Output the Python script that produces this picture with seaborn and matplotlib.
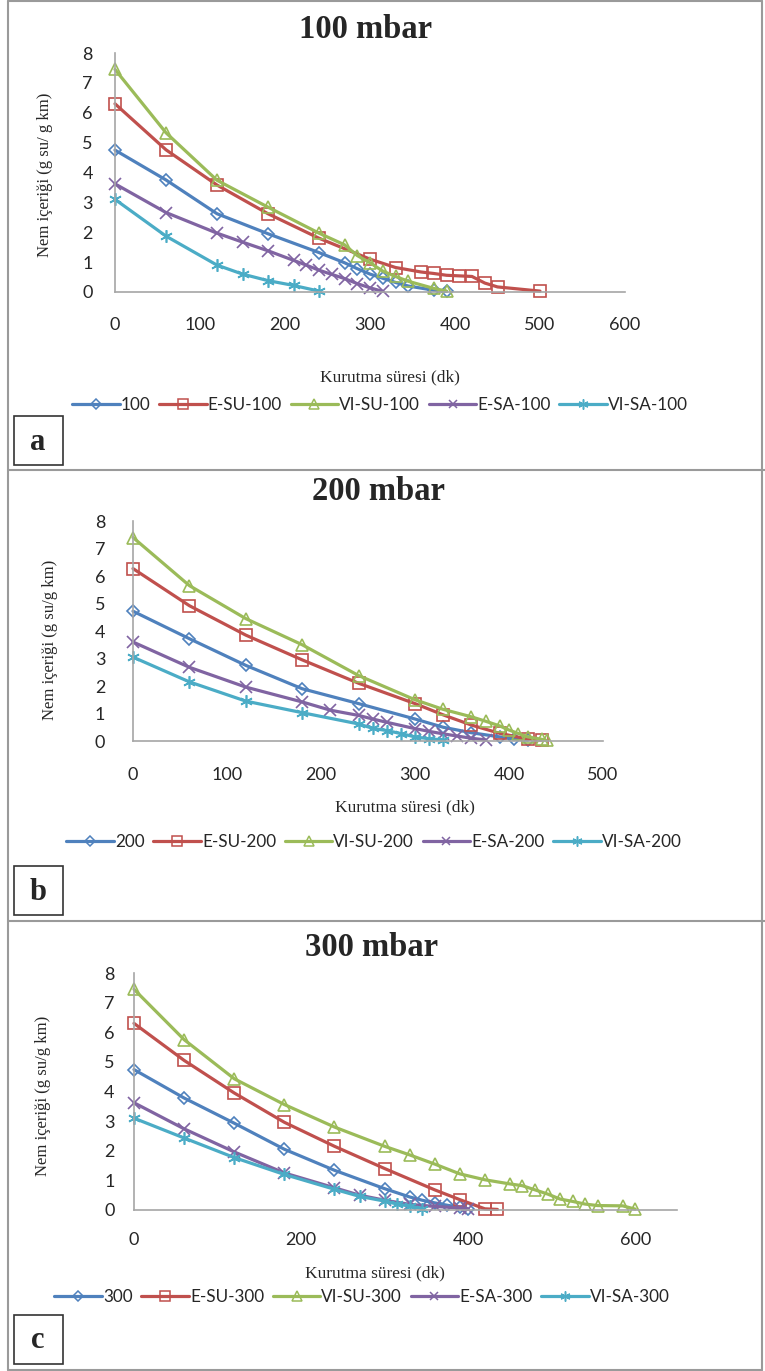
import numpy as np
import pandas as pd
import matplotlib
matplotlib.use("Agg")
import matplotlib.pyplot as plt
import seaborn as sns
from matplotlib.lines import Line2D
from matplotlib.patches import Rectangle

# ---- data ----
# panel a: 100 mbar
a_names = ['100', 'E-SU-100', 'VI-SU-100', 'E-SA-100', 'VI-SA-100']
a_t_base = [0, 60, 120, 180, 240, 270, 285, 300, 315, 330, 345, 375, 390]
a_y_base = [4.75, 3.75, 2.62, 1.95, 1.32, 0.98, 0.78, 0.60, 0.46, 0.32, 0.20, 0.06, 0.02]
a_t_esu = [0, 60, 120, 180, 240, 300, 330, 360, 375, 390, 405, 420, 435, 450, 500]
a_y_esu = [6.30, 4.76, 3.58, 2.62, 1.80, 1.10, 0.82, 0.67, 0.62, 0.56, 0.54, 0.52, 0.30, 0.17, 0.03]
a_t_visu = [0, 60, 120, 180, 240, 270, 285, 300, 315, 330, 345, 375, 390]
a_y_visu = [7.45, 5.33, 3.74, 2.84, 1.97, 1.58, 1.22, 0.98, 0.70, 0.52, 0.36, 0.12, 0.03]
a_t_esa = [0, 60, 120, 150, 180, 210, 225, 240, 255, 270, 285, 300, 315]
a_y_esa = [3.62, 2.66, 1.97, 1.67, 1.38, 1.06, 0.90, 0.73, 0.59, 0.45, 0.28, 0.14, 0.02]
a_t_visa = [0, 60, 120, 150, 180, 210, 240]
a_y_visa = [3.10, 1.87, 0.90, 0.60, 0.38, 0.22, 0.03]

# panel b: 200 mbar
b_names = ['200', 'E-SU-200', 'VI-SU-200', 'E-SA-200', 'VI-SA-200']
b_t_base = [0, 60, 120, 180, 240, 300, 330, 360, 390, 405, 420]
b_y_base = [4.72, 3.72, 2.75, 1.90, 1.36, 0.80, 0.50, 0.30, 0.15, 0.08, 0.03]
b_t_esu = [0, 60, 120, 180, 240, 300, 330, 360, 390, 420, 435]
b_y_esu = [6.27, 4.92, 3.85, 2.95, 2.10, 1.36, 0.95, 0.58, 0.28, 0.07, 0.03]
b_t_visu = [0, 60, 120, 180, 240, 300, 330, 360, 375, 390, 400, 410, 420, 435, 440]
b_y_visu = [7.40, 5.65, 4.45, 3.50, 2.38, 1.50, 1.15, 0.88, 0.72, 0.55, 0.40, 0.27, 0.15, 0.06, 0.02]
b_t_esa = [0, 60, 120, 180, 210, 240, 255, 270, 300, 315, 330, 345, 360, 375]
b_y_esa = [3.60, 2.68, 1.96, 1.42, 1.12, 0.93, 0.80, 0.68, 0.45, 0.35, 0.26, 0.18, 0.10, 0.04]
b_t_visa = [0, 60, 120, 180, 240, 255, 270, 285, 300, 315, 330]
b_y_visa = [3.05, 2.15, 1.45, 1.03, 0.62, 0.46, 0.38, 0.27, 0.15, 0.08, 0.04]

# panel c: 300 mbar
c_names = ['300', 'E-SU-300', 'VI-SU-300', 'E-SA-300', 'VI-SA-300']
c_t_base = [0, 60, 120, 180, 240, 300, 330, 345, 360, 375, 390, 400]
c_y_base = [4.74, 3.78, 2.93, 2.05, 1.34, 0.72, 0.44, 0.33, 0.24, 0.16, 0.09, 0.03]
c_t_esu = [0, 60, 120, 180, 240, 300, 360, 390, 420, 435]
c_y_esu = [6.30, 5.05, 3.95, 2.96, 2.15, 1.40, 0.68, 0.35, 0.04, 0.02]
c_t_visu = [0, 60, 120, 180, 240, 300, 330, 360, 390, 420, 450, 465, 480, 495, 510,
            525, 540, 555, 585, 600]
c_y_visu = [7.45, 5.75, 4.43, 3.56, 2.80, 2.15, 1.86, 1.55, 1.22, 1.02, 0.88, 0.82, 0.68,
            0.54, 0.37, 0.29, 0.20, 0.15, 0.14, 0.03]
c_t_esa = [0, 60, 120, 180, 240, 270, 300, 330, 360, 390, 400]
c_y_esa = [3.62, 2.74, 1.96, 1.25, 0.75, 0.50, 0.33, 0.19, 0.12, 0.07, 0.03]
c_t_visa = [0, 60, 120, 180, 240, 270, 300, 315, 330, 345]
c_y_visa = [3.10, 2.43, 1.77, 1.20, 0.70, 0.46, 0.30, 0.20, 0.13, 0.05]

colors = ['#4F81BD', '#C0504D', '#9BBB59', '#8064A2', '#4BACC6']
markers = ['D', 's', '^', 'x', (6, 2, 0)]
msizes = [6, 8.5, 8.5, 8, 9]

W, H = 765, 1371
SERIF = ['Liberation Serif', 'DejaVu Serif']

sns.set_style("white")
plt.rcParams['font.family'] = ['Lato', 'DejaVu Sans']

fig = plt.figure(figsize=(W / 100, H / 100), dpi=100)


def fx(px):
    return px / W


def fy(py):
    return 1 - py / H


def panel(names, series, rect, xmax, xticks, title, title_xy, xlab_xy, ylab, ylab_xy,
          leg_xy, letter, box_y, pads):
    left, top, right, bottom = rect
    ax = fig.add_axes([fx(left), fy(bottom), fx(right - left), (bottom - top) / H])
    for n, (t, y), c, m, ms in zip(names, series, colors, markers, msizes):
        df = pd.DataFrame({'t': t, 'y': y})
        sns.lineplot(data=df, x='t', y='y', color=c, marker=m, ms=ms, mfc='none',
                     mec=c, mew=1.2, lw=2.3, estimator=None, sort=False, ax=ax,
                     clip_on=False)
    ax.set_xlim(0, xmax)
    ax.set_ylim(0, 8)
    ax.set_xticks(xticks)
    ax.set_yticks(range(0, 9))
    ax.set_xlabel('')
    ax.set_ylabel('')
    sns.despine(ax=ax)
    for s in ['left', 'bottom']:
        ax.spines[s].set_color('#a6a6a6')
        ax.spines[s].set_linewidth(1.2)
    ax.tick_params(axis='x', length=0, pad=pads[0], labelsize=13, labelcolor='#262626')
    ax.tick_params(axis='y', length=0, pad=pads[1], labelsize=13, labelcolor='#262626')

    fig.text(fx(title_xy[0]), fy(title_xy[1]), title, family=SERIF, weight='bold',
             fontsize=23.5, ha='center', va='center')
    fig.text(fx(xlab_xy[0]), fy(xlab_xy[1]), 'Kurutma süresi (dk)', family=SERIF,
             fontsize=12.5, ha='center', va='center', color='#262626')
    fig.text(fx(ylab_xy[0]), fy(ylab_xy[1]), ylab, family=SERIF, fontsize=12,
             rotation=90, ha='center', va='center', color='#262626')

    handles = [Line2D([], [], color=c, marker=m, ms=ms * 0.8, mfc='none', mec=c,
                      mew=1.1, lw=2.3) for c, m, ms in zip(colors, markers, msizes)]
    fig.legend(handles, names, loc='center', ncol=5, frameon=False, fontsize=12.3,
               bbox_to_anchor=(fx(leg_xy[0]), fy(leg_xy[1])), handlelength=2.8,
               handletextpad=0.05, columnspacing=0.5, borderpad=0)

    fig.add_artist(Rectangle((fx(14), fy(box_y + 49)), fx(49), 49 / H,
                             transform=fig.transFigure, fill=False, ec='#333333',
                             lw=1.2))
    fig.text(fx(38), fy(box_y + 26), letter, family=SERIF, weight='bold', fontsize=22,
             ha='center', va='center')
    return ax


panel(a_names,
      [(a_t_base, a_y_base), (a_t_esu, a_y_esu), (a_t_visu, a_y_visu),
       (a_t_esa, a_y_esa), (a_t_visa, a_y_visa)],
      (115, 53, 625, 292), 600, [0, 100, 200, 300, 400, 500, 600],
      '100 mbar', (366, 30), (390, 377), 'Nem içeriği (g su/ g km)', (45, 175),
      (380, 405), 'a', 416, (18, 16))

panel(b_names,
      [(b_t_base, b_y_base), (b_t_esu, b_y_esu), (b_t_visu, b_y_visu),
       (b_t_esa, b_y_esa), (b_t_visa, b_y_visa)],
      (133, 521, 603, 741), 500, [0, 100, 200, 300, 400, 500],
      '200 mbar', (378, 492), (405, 807), 'Nem içeriği (g su/g km)', (50, 640),
      (374, 842), 'b', 866, (19, 20))

panel(c_names,
      [(c_t_base, c_y_base), (c_t_esu, c_y_esu), (c_t_visu, c_y_visu),
       (c_t_esa, c_y_esa), (c_t_visa, c_y_visa)],
      (134, 973, 677, 1210), 650, [0, 200, 400, 600],
      '300 mbar', (372, 947), (375, 1273), 'Nem içeriği (g su/g km)', (43, 1096),
      (362, 1297), 'c', 1315, (16, 14))

# outer frame and separators
gray = '#9a9a9a'
for (x0, y0, x1, y1) in [(8, 1, 8, 1370), (762, 1, 762, 1370), (8, 1, 762, 1),
                         (8, 1370, 762, 1370), (8, 470, 765, 470), (8, 921, 765, 921)]:
    fig.add_artist(Line2D([fx(x0), fx(x1)], [fy(y0), fy(y1)], transform=fig.transFigure,
                          color=gray, lw=1.5))

fig.savefig('out.png', dpi=100)
